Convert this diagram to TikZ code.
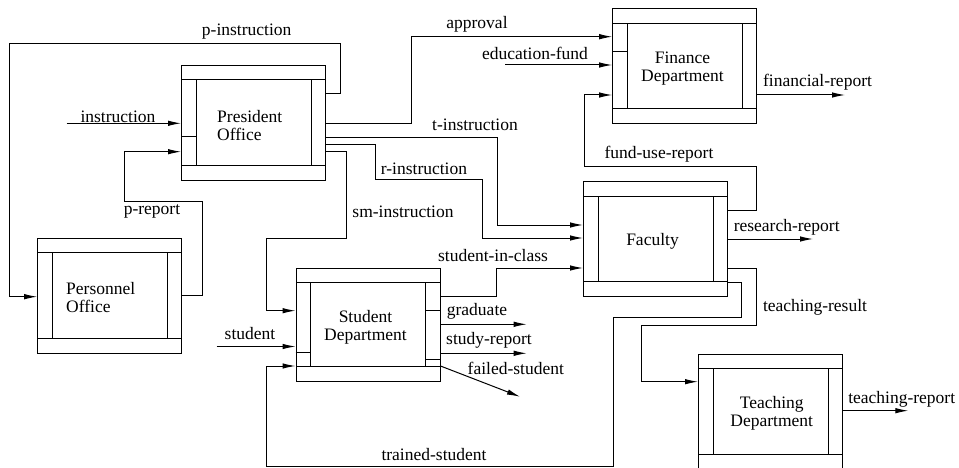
\documentclass[tikz,border=0pt]{standalone}
\usepackage{fontspec}
\setmainfont{Liberation Serif}
\newfontfamily\labelfont{Liberation Serif}
\usetikzlibrary{arrows.meta,calc}

\tikzset{
  % activity box with top, bottom and side bands
  idef/.style={draw, line width=1pt, inner sep=0pt, minimum width=144pt,
    minimum height=115pt,
    path picture={
      \coordinate (nw) at (path picture bounding box.north west);
      \coordinate (ne) at (path picture bounding box.north east);
      \coordinate (sw) at (path picture bounding box.south west);
      \coordinate (se) at (path picture bounding box.south east);
      \draw[line width=1pt] ($(nw)+(0,14.5)$) -- ($(ne)+(0,14.5)$);
      \draw[line width=1pt] ($(sw)+(0,-15)$) -- ($(se)+(0,-15)$);
      \draw[line width=1pt] ($(nw)+(14.5,14.5)$) -- ($(sw)+(14.5,-15)$);
      \draw[line width=1pt] ($(ne)+(-14.5,14.5)$) -- ($(se)+(-14.5,-15)$);
    }},
  boxtext/.style={inner sep=0pt, font=\labelfont\fontsize{17.5}{18}\selectfont},
  flowlabel/.style={inner sep=0pt, font=\labelfont\fontsize{17.5}{18}\selectfont},
  flow/.style={line width=1pt, -{Latex[length=13pt,width=5.5pt]}},
  tick/.style={line width=1pt}
}

\begin{document}
\begin{tikzpicture}[x=1pt,y=-1pt]
\useasboundingbox (0,0) rectangle (959,468);
\fill[white] (0,0) rectangle (959,468);
\clip (0,0) rectangle (959,468);

% boxes
\node[idef] (pres)  at (253.5,123) {};
\node[idef] (pers)  at (109.7,295.8) {};
\node[idef, minimum height=112.7pt] (stud) at (368,324.7) {};
\node[idef] (fac)   at (655.5,239.2) {};
\node[idef] (fin)   at (684.7,66.2) {};
\node[idef] (teach) at (770.5,411.5) {};

% box names
\node[boxtext, anchor=west, align=left] (pres-t) at (217,125.8) {President\\Office};
\node[boxtext, anchor=west, align=left] (pers-t) at (66,298) {Personnel\\Office};
\node[boxtext, align=center] (stud-t)  at (365.5,327) {Student\\Department};
\node[boxtext, align=center] (fin-t)   at (682.5,68.3) {Finance\\Department};
\node[boxtext] (fac-t)                 at (652.5,241) {Faculty};
\node[boxtext, align=center] (teach-t) at (771.7,413.3) {Teaching\\Department};

% small dividers in the side bands
\draw[tick] (pres.west |- 0,137) -- (196,137);
\draw[tick] (stud.west |- 0,352.7) -- (310.7,352.7);
\draw[tick] (stud.east |- 0,310.7) -- (425.7,310.7);
\draw[tick] (stud.east |- 0,359.3) -- (425.7,359.3);
\draw[tick] (fin.west |- 0,51.7) -- (626.7,51.7);

% free ends
\coordinate (instr-in)  at (66.7,123.3);
\coordinate (stud-in)   at (216.7,346.5);
\coordinate (edu-in)    at (505,65);
\coordinate (grad-out)  at (526.7,324.3);
\coordinate (study-out) at (526.7,353.3);
\coordinate (fail-out)  at (520,396.7);
\coordinate (finr-out)  at (845,95);
\coordinate (resr-out)  at (813,239);
\coordinate (teachr-out) at (908.3,410.7);

% connectors
\draw[flow] (instr-in) -- (pres.west |- 0,123.3);
\draw[flow] (pers.east |- 0,295.7) -- (202.3,295.7) -- (202.3,201.7)
  -- (124.3,201.7) -- (124.3,151.7) -- (pres.west |- 0,151.7);
\draw[flow] (pres.east |- 0,94) -- (340,94) -- (340,43.3) -- (9.3,43.3)
  -- (9.3,296.7) -- (pers.west |- 0,296.7);
\draw[flow] (pres.east |- 0,123.3) -- (411,123.3) -- (411,36.7) -- (fin.west |- 0,36.7);
\draw[flow] (pres.east |- 0,138) -- (497.3,138) -- (497.3,225) -- (fac.west |- 0,225);
\draw[flow] (pres.east |- 0,144.5) -- (375.7,144.5) -- (375.7,180) -- (482.3,180)
  -- (482.3,238) -- (fac.west |- 0,238);
\draw[flow] (pres.east |- 0,151.7) -- (346.7,151.7) -- (346.7,238.3) -- (266.7,238.3)
  -- (266.7,310.7) -- (stud.west |- 0,310.7);
\draw[flow] (stud-in) -- (stud.west |- 0,346.5);
\draw[flow] (fac.east |- 0,282.3) -- (741.7,282.3) -- (741.7,317.7) -- (613.3,317.7)
  -- (613.3,466.7) -- (266.7,466.7) -- (266.7,366) -- (stud.west |- 0,366);
\draw[flow] (stud.east |- 0,296) -- (496.7,296) -- (496.7,268) -- (fac.west |- 0,268);
\draw[flow] (stud.east |- 0,324.3) -- (grad-out);
\draw[flow] (stud.east |- 0,353.3) -- (study-out);
\draw[flow] (stud.east |- 0,366) -- (fail-out);
\draw[flow] (edu-in) -- (fin.west |- 0,65);
\draw[flow] (fac.east |- 0,210) -- (756.3,210) -- (756.3,166.7) -- (584,166.7)
  -- (584,95) -- (fin.west |- 0,95);
\draw[flow] (fin.east |- 0,95) -- (finr-out);
\draw[flow] (fac.east |- 0,239) -- (resr-out);
\draw[flow] (fac.east |- 0,268.3) -- (756.3,268.3) -- (756.3,325) -- (641,325)
  -- (641,381.7) -- (teach.west |- 0,381.7);
\draw[flow] (teach.east |- 0,410.7) -- (teachr-out);

% connector labels
\node[flowlabel] (l-pinstr) at (246.7,31.7) {p-instruction};
\node[flowlabel, anchor=base] (l-instr) at (118,123) {instruction};
\node[flowlabel] (l-prep)   at (152,211.7) {p-report};
\node[flowlabel] (l-sm)     at (403,211.7) {sm-instruction};
\node[flowlabel] (l-appr)   at (477,24) {approval};
\node[flowlabel] (l-edu)    at (535,53.3) {education-fund};
\node[flowlabel] (l-t)      at (475,125) {t-instruction};
\node[flowlabel] (l-r)      at (424,169) {r-instruction};
\node[flowlabel] (l-sic)    at (493,255.5) {student-in-class};
\node[flowlabel] (l-stud)   at (250,334) {student};
\node[flowlabel] (l-grad)   at (477,311.7) {graduate};
\node[flowlabel] (l-study)  at (489,340.7) {study-report};
\node[flowlabel] (l-fail)   at (515.8,368.3) {failed-student};
\node[flowlabel] (l-train)  at (434,455) {trained-student};
\node[flowlabel] (l-fund)   at (659,154.3) {fund-use-report};
\node[flowlabel] (l-finr)   at (817.5,82.7) {financial-report};
\node[flowlabel] (l-res)    at (786.7,227.7) {research-report};
\node[flowlabel] (l-tres)   at (815,307.3) {teaching-result};
\node[flowlabel] (l-trep)   at (901.7,399.3) {teaching-report};
\end{tikzpicture}
\end{document}
